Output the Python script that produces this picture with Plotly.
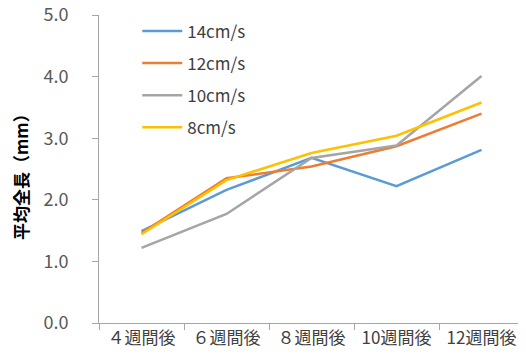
import plotly.graph_objects as go

weeks = ["４週間後", "６週間後", "８週間後", "10週間後", "12週間後"]
series_names = ["14cm/s", "12cm/s", "10cm/s", "8cm/s"]
v14 = [1.49, 2.16, 2.68, 2.22, 2.81]
v12 = [1.46, 2.35, 2.54, 2.87, 3.40]
v10 = [1.22, 1.77, 2.68, 2.88, 4.01]
v8 = [1.44, 2.32, 2.76, 3.04, 3.58]
colors = ["#5B9BD5", "#ED7D31", "#A5A5A5", "#FFC000"]
y_title = "平均全長（mm）"

font_jp = "Noto Sans CJK JP"

fig = go.Figure()

for name, vals, col in zip(series_names, [v14, v12, v10, v8], colors):
    fig.add_trace(go.Scatter(
        x=weeks, y=vals, mode="lines", name=name, legendgroup=name,
        line=dict(color=col, width=2.5)
    ))

# page body has an 8px margin, so the figure is shrunk and shifted to compensate
fig.update_layout(
    width=518, height=355,
    margin=dict(l=91, r=2, t=7, b=40, autoexpand=False),
    plot_bgcolor="white", paper_bgcolor="white",
    font=dict(family=font_jp, size=17, color="#595959"),
    legend=dict(
        x=0.09, y=1.005, xanchor="left", yanchor="top",
        bgcolor="rgba(0,0,0,0)", tracegroupgap=7,
        font=dict(family=font_jp, size=17, color="#404040"),
        itemwidth=40,
    ),
    showlegend=True,
)

# y axis title as an annotation so it sits further left
fig.add_annotation(
    text=y_title, xref="paper", yref="paper", x=-0.186, y=0.49,
    xanchor="center", yanchor="middle", textangle=-90, showarrow=False,
    font=dict(family=font_jp, size=17, color="#000000", weight="bold"),
)

fig.update_xaxes(
    showline=True, linecolor="#A6A6A6", linewidth=1,
    ticks="outside", tickcolor="#A6A6A6", ticklen=6,
    tickson="boundaries", showgrid=False,
    range=[-0.5, 4.5],
    tickfont=dict(family=font_jp, size=17, color="#404040"),
)
fig.update_yaxes(
    range=[0, 5], dtick=1, tickformat=".1f",
    showline=True, linecolor="#A6A6A6", linewidth=1,
    ticks="outside", tickcolor="#A6A6A6", ticklen=6,
    ticklabelstandoff=20, ticklabeloverflow="allow",
    showgrid=False, zeroline=False,
    tickfont=dict(family=font_jp, size=18, color="#595959"),
)

fig.write_html("out.html")
